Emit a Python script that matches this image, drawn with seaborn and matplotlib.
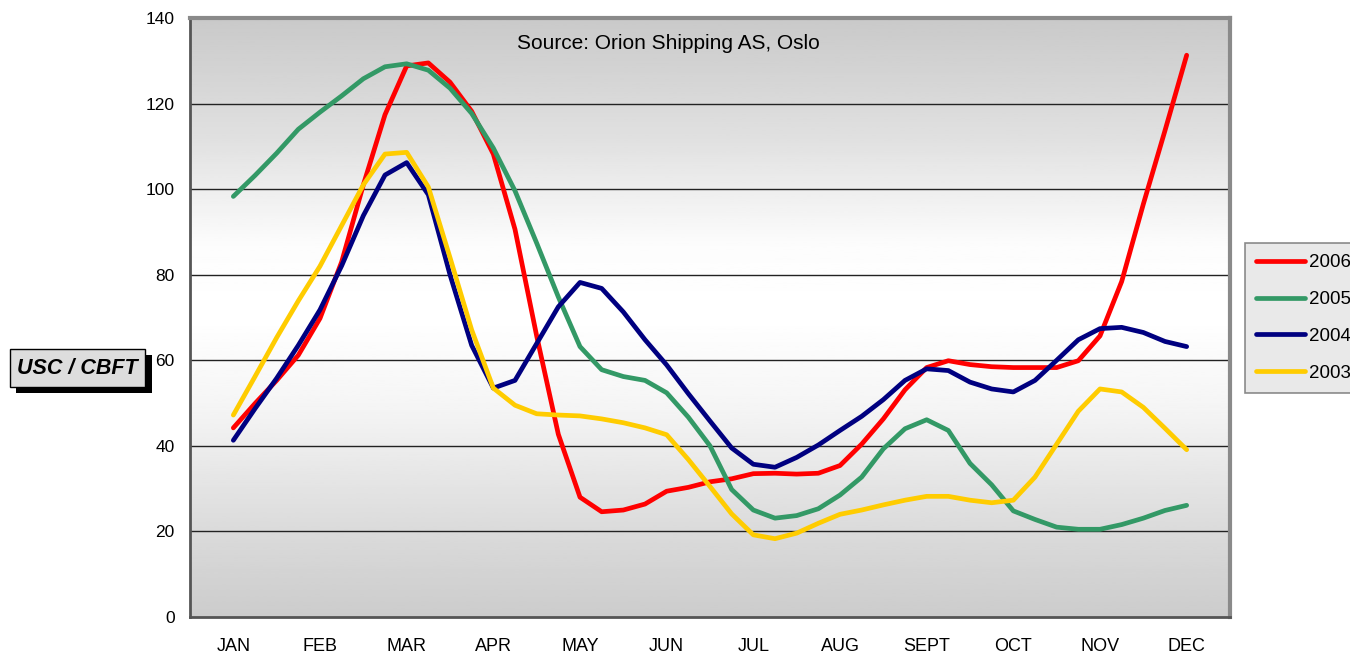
import numpy as np
import pandas as pd
import seaborn as sns
import matplotlib.pyplot as plt
from matplotlib.patches import Rectangle

# month labels on the category axis
months = ['JAN', 'FEB', 'MAR', 'APR', 'MAY', 'JUN', 'JUL', 'AUG', 'SEPT', 'OCT', 'NOV', 'DEC']

# readings every quarter month, JAN .. DEC
pos = np.arange(45) / 4

v2006 = [44.2, 49.9, 55.3, 61.2, 69.8, 83.0, 101.0, 117.4, 128.8, 129.5, 125.0,
         118.2, 108.2, 90.6, 65.7, 42.7, 28.0, 24.6, 25.0, 26.4, 29.4, 30.3,
         31.6, 32.3, 33.5, 33.6, 33.4, 33.6, 35.4, 40.4, 46.3, 53.1, 58.3, 59.9,
         59.0, 58.5, 58.3, 58.3, 58.3, 59.9, 65.7, 78.4, 96.5, 113.7, 131.3]
v2005 = [98.3, 103.2, 108.4, 114.0, 118.0, 121.8, 125.8, 128.6, 129.3, 127.8, 123.6,
         117.7, 109.6, 99.6, 87.4, 74.8, 63.2, 57.8, 56.2, 55.3, 52.4, 46.7,
         40.0, 29.8, 25.0, 23.1, 23.7, 25.3, 28.5, 32.7, 39.3, 44.0, 46.1, 43.6,
         35.9, 30.9, 24.8, 22.8, 21.0, 20.5, 20.5, 21.6, 23.1, 24.9, 26.1]
v2004 = [41.3, 48.7, 55.8, 63.5, 71.8, 82.1, 93.8, 103.3, 106.2, 98.7, 80.0,
         63.5, 53.5, 55.3, 63.9, 72.5, 78.2, 76.8, 71.3, 64.8, 58.9, 52.2,
         45.8, 39.5, 35.7, 35.0, 37.3, 40.2, 43.6, 46.9, 50.8, 55.3, 58.0, 57.6,
         54.9, 53.3, 52.6, 55.3, 60.0, 64.8, 67.4, 67.7, 66.5, 64.4, 63.2]
v2003 = [47.2, 56.2, 65.3, 73.9, 82.0, 91.5, 101.0, 108.2, 108.6, 100.5, 84.0,
         67.1, 53.5, 49.5, 47.5, 47.2, 47.0, 46.3, 45.4, 44.2, 42.6, 36.8,
         30.5, 24.1, 19.2, 18.3, 19.6, 21.9, 24.0, 25.0, 26.2, 27.3, 28.2, 28.2,
         27.3, 26.7, 27.3, 32.7, 40.4, 48.1, 53.3, 52.6, 49.0, 44.1, 39.1]

years = ['2006', '2005', '2004', '2003']
colors = ['#FF0000', '#339966', '#000080', '#FFCC00']

df = pd.concat([
    pd.DataFrame({'pos': pos, 'value': vals, 'year': yr})
    for yr, vals in zip(years, [v2006, v2005, v2004, v2003])
])

sns.set_style('white')
plt.rcParams['font.family'] = ['Liberation Sans', 'DejaVu Sans']
plt.rcParams['text.color'] = 'black'
plt.rcParams['xtick.color'] = 'black'
plt.rcParams['ytick.color'] = 'black'

fig = plt.figure(figsize=(13.5, 6.6), dpi=100)
ax = fig.add_axes([190 / 1350, 43 / 660, 1040 / 1350, 599 / 660])

# grey - white - grey vertical gradient behind the plot
t = np.linspace(0, 1, 256)
shade = np.interp(t, [0, 0.15, 0.35, 0.5, 0.62, 0.8, 1.0],
                  [0.80, 0.86, 0.96, 1.0, 0.99, 0.88, 0.79])
ax.imshow(shade[:, None], cmap='gray', vmin=0, vmax=1, aspect='auto',
          extent=[-0.5, 11.5, 0, 140], origin='lower', zorder=0)

for yv in range(20, 140, 20):
    ax.axhline(yv, color='#222222', lw=1.0, zorder=1)

sns.lineplot(data=df, x='pos', y='value', hue='year', hue_order=years,
             palette=colors, linewidth=3.4, ax=ax, zorder=3)
for ln in ax.lines:
    ln.set_solid_capstyle('round')
    ln.set_solid_joinstyle('round')

handles, labels = ax.get_legend_handles_labels()
ax.get_legend().remove()
for h in handles:
    h.set_linewidth(3.4)
    h.set_solid_capstyle('round')

ax.set_xlim(-0.5, 11.5)
ax.set_ylim(0, 140)
ax.set_xlabel('')
ax.set_ylabel('')

ax.set_xticks(np.arange(-0.5, 12, 1))
ax.set_xticklabels([])
ax.set_xticks(range(12), minor=True)
ax.set_xticklabels(months, minor=True, fontsize=13)
ax.tick_params(axis='x', which='major', direction='out', length=5, width=1, color='#222222')
ax.tick_params(axis='x', which='minor', length=0, pad=15)
ax.set_yticks(range(0, 141, 20))
ax.tick_params(axis='y', direction='out', length=5, width=1, color='#222222',
               labelsize=12.5, pad=6)

for side in ['top', 'right']:
    ax.spines[side].set_color('#8a8a8a')
    ax.spines[side].set_linewidth(3)
for side in ['left', 'bottom']:
    ax.spines[side].set_color('#555555')
    ax.spines[side].set_linewidth(2)

ax.text(0.4596, 0.958, 'Source: Orion Shipping AS, Oslo', transform=ax.transAxes,
        ha='center', va='center', fontsize=15)

# y label in a shadowed box
fig.add_artist(Rectangle((16 / 1350, 1 - 393 / 660), 136 / 1350, 38 / 660,
                         transform=fig.transFigure, facecolor='black', edgecolor='none'))
fig.add_artist(Rectangle((10 / 1350, 1 - 387 / 660), 135 / 1350, 38 / 660,
                         transform=fig.transFigure, facecolor='#dddddd',
                         edgecolor='black', linewidth=1))
fig.text(77 / 1350, 1 - 368 / 660, 'USC / CBFT', ha='center', va='center',
         fontsize=15.5, fontweight='bold', fontstyle='italic')

leg = fig.legend(handles, labels, loc='upper left',
                 bbox_to_anchor=(1245 / 1350, 1 - 243 / 660),
                 bbox_transform=fig.transFigure, fontsize=13.5, borderaxespad=0,
                 handlelength=2.6, handletextpad=0.2, labelspacing=1.05,
                 borderpad=0.6, frameon=True, fancybox=False)
leg.get_frame().set_facecolor('#e4e4e4')
leg.get_frame().set_edgecolor('#707070')
leg.get_frame().set_linewidth(1.2)

fig.savefig('out.png', dpi=100)
